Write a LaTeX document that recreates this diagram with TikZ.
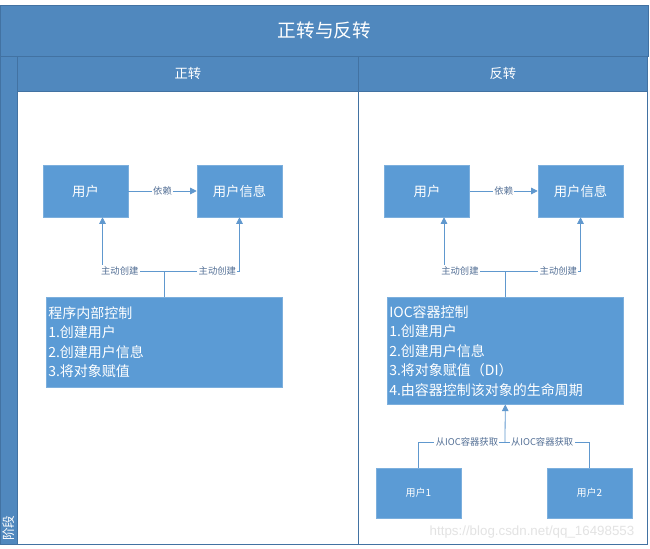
\documentclass[tikz,border=0pt]{standalone}
\usepackage{fontspec}
\setmainfont{Noto Sans CJK SC}
\newfontfamily\markfont{Liberation Sans}
\usetikzlibrary{arrows.meta}

\begin{document}
\begin{tikzpicture}[x=0.75pt, y=-0.75pt,
  head/.style={fill=bandblue, draw=bandline, line width=0.6pt, text=white, inner sep=0pt},
  box/.style={fill=boxblue, draw=boxblue!80!white, line width=0.4pt, text=white, inner sep=0pt,
    minimum width=85*0.75pt, minimum height=52*0.75pt, font=\fontsize{10}{12}\selectfont},
  smallbox/.style={box, minimum height=50*0.75pt, font=\fontsize{7.5}{9}\selectfont},
  ctrlbox/.style={fill=boxblue, draw=boxblue!80!white, line width=0.4pt, text=white, anchor=north west,
    align=left, text width=174pt, inner xsep=1.5pt, inner ysep=0pt, font=\fontsize{10.5}{14.6}\selectfont},
  link/.style={draw=linkblue, line width=0.6pt},
  arr/.style={link, -{Triangle[length=5pt,width=5pt]}},
  tag/.style={fill=white, text=tagblue, inner sep=1pt, font=\fontsize{7}{8}\selectfont}]
  % Define colors
  \definecolor{bandblue}{RGB}{80,136,190}
  \definecolor{bandline}{RGB}{66,114,162}
  \definecolor{boxblue}{RGB}{91,155,213}
  \definecolor{linkblue}{RGB}{96,152,206}
  \definecolor{tagblue}{RGB}{84,112,150}

  % Page
  \useasboundingbox (0,0) rectangle (650,549);
  \fill[white] (0,0) rectangle (650,549);

  % Frame
  \node[head, anchor=north west, minimum width=648*0.75pt, minimum height=51*0.75pt,
    font=\fontsize{14}{16}\selectfont] (title) at (0,5) {正转与反转};
  \node[head, anchor=north west, minimum width=17*0.75pt, minimum height=488*0.75pt] (stage) at (0,56) {};
  \node[head, anchor=north west, minimum width=341*0.75pt, minimum height=35*0.75pt,
    font=\fontsize{10}{12}\selectfont] (headL) at (17,56) {正转};
  \node[head, anchor=north west, minimum width=289*0.75pt, minimum height=35*0.75pt,
    font=\fontsize{10}{12}\selectfont] (headR) at (358,56) {反转};
  \draw[bandline, line width=0.6pt] (17,91) rectangle (358,544);
  \draw[bandline, line width=0.6pt] (358,91) rectangle (647,544);
  \node[rotate=90, anchor=west, text=white, inner sep=0pt, font=\fontsize{9.5}{11}\selectfont] (stagetxt) at (8.5,541) {阶段};

  % Left panel
  \node[box] (userL) at (85.5,191) {用户};
  \node[box] (infoL) at (239.5,191) {用户信息};
  \node[ctrlbox, minimum height=90*0.75pt] (ctrlL) at (46,297) {程序内部控制\\1.创建用户\\2.创建用户信息\\3.将对象赋值};
  \draw[arr] (userL) -- node[tag] {依赖} (infoL);
  \draw[link] (ctrlL.north) -- ++(0,-26) coordinate (joinL);
  \draw[arr] (joinL) -| node[tag, pos=0.36] {主动创建} ([xshift=12.75pt]userL.south);
  \draw[arr] (joinL) -| node[tag, pos=0.353] {主动创建} (infoL.south);

  % Right panel
  \node[box] (userR) at (427,191) {用户};
  \node[box] (infoR) at (580.5,191) {用户信息};
  \node[ctrlbox, minimum height=107*0.75pt] (ctrlR) at (387,297) {IOC容器控制\\1.创建用户\\2.创建用户信息\\3.将对象赋值（DI）\\4.由容器控制该对象的生命周期};
  \draw[arr] (userR) -- node[tag] {依赖} (infoR);
  \draw[link] (ctrlR.north) -- ++(0,-26) coordinate (joinR);
  \draw[arr] (joinR) -| node[tag, pos=0.37] {主动创建} ([xshift=12.75pt]userR.south);
  \draw[arr] (joinR) -| node[tag, pos=0.353] {主动创建} (infoR.south);

  % Users getting from the container
  \node[smallbox] (user1) at (418.5,493) {用户1};
  \node[smallbox] (user2) at (589.5,493) {用户2};
  \coordinate (joinB) at (505,442);
  \draw[arr] (joinB) -- (ctrlR.south);
  \draw[link] (user1.north) |- node[tag, pos=0.78] {从IOC容器获取} (joinB);
  \draw[link] (user2.north) |- node[tag, pos=0.78] {从IOC容器获取} (joinB);

  % Watermark
  \node[text=gray!22, font=\markfont\fontsize{10}{12}\selectfont] (mark) at (532,532) {https://blog.csdn.net/qq\_16498553};
\end{tikzpicture}
\end{document}
